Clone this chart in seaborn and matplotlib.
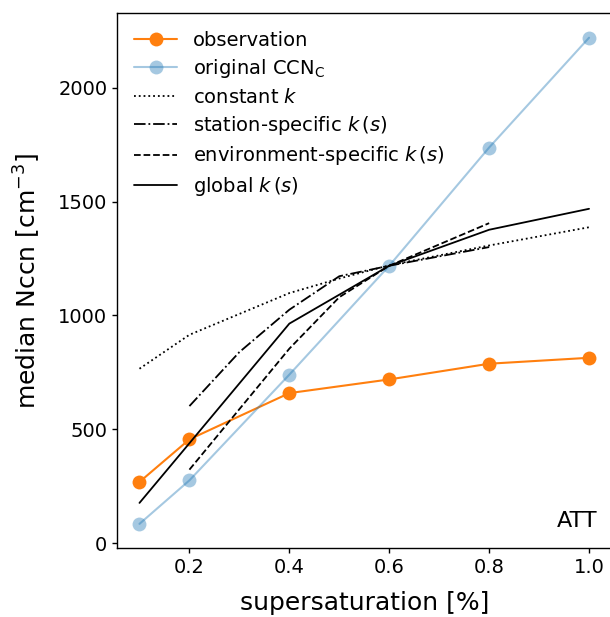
import matplotlib
matplotlib.use("Agg")
import matplotlib.pyplot as plt
import seaborn as sns

sns.set_style("ticks")
plt.rcParams['font.family'] = ['DejaVu Sans']
plt.rcParams['mathtext.fontset'] = 'dejavusans'
for k in ['text.color', 'axes.labelcolor', 'xtick.color', 'ytick.color', 'axes.edgecolor']:
    plt.rcParams[k] = 'black'

ss_all = [0.1, 0.2, 0.4, 0.6, 0.8, 1.0]
observation = [269, 456, 659, 719, 788, 814]
original_ccnc = [85, 276, 740, 1218, 1737, 2219]

ss_const = [0.1, 0.2, 0.4, 0.5, 0.6, 0.8, 1.0]
constant_k = [766, 915, 1098, 1162, 1220, 1307, 1387]

ss_station = [0.2, 0.3, 0.4, 0.5, 0.6, 0.8]
station_k = [602, 839, 1025, 1172, 1218, 1300]

ss_env = [0.2, 0.4, 0.5, 0.6, 0.8]
env_k = [323, 854, 1080, 1218, 1405]

ss_global = [0.1, 0.2, 0.4, 0.6, 0.8, 1.0]
global_k = [177, 439, 964, 1218, 1376, 1468]

fig = plt.figure(figsize=(6.10, 6.17), dpi=100)
ax = fig.add_axes([0.1918, 0.1118, 0.8107, 0.8666])

sns.lineplot(x=ss_all, y=observation, ax=ax, color='#ff7f0e', marker='o',
             markersize=10, markeredgewidth=0, lw=1.5, label='observation')
sns.lineplot(x=ss_all, y=original_ccnc, ax=ax, color='#1f77b4', alpha=0.4, marker='o',
             markersize=10, markeredgewidth=0, lw=1.5, label=r'original CCN$_\mathrm{C}$')
sns.lineplot(x=ss_const, y=constant_k, ax=ax, color='black', ls=':', lw=1.3,
             label=r'constant $k$')
sns.lineplot(x=ss_station, y=station_k, ax=ax, color='black', ls='-.', lw=1.3,
             label=r'station-specific $k\,(s)$')
sns.lineplot(x=ss_env, y=env_k, ax=ax, color='black', ls='--', lw=1.3,
             label=r'environment-specific $k\,(s)$')
sns.lineplot(x=ss_global, y=global_k, ax=ax, color='black', ls='-', lw=1.3,
             label=r'global $k\,(s)$')

ax.set_xlim(0.055, 1.045)
ax.set_ylim(-21, 2326)
ax.set_xticks([0.2, 0.4, 0.6, 0.8, 1.0])
ax.set_yticks([0, 500, 1000, 1500, 2000])
ax.tick_params(labelsize=14, length=3.5, width=1)
ax.set_xlabel('supersaturation [%]', fontsize=18, labelpad=10)
ax.set_ylabel(r'median Nccn [cm$^{-3}$]', fontsize=18, labelpad=10.5)
for s in ax.spines.values():
    s.set_linewidth(1)
ax.text(0.972, 0.039, 'ATT', transform=ax.transAxes, ha='right', va='baseline', fontsize=16)
leg = ax.legend(loc='upper left', frameon=False, fontsize=14, handlelength=2.2,
                labelspacing=0.38, borderaxespad=0.5)
fig.savefig('out.png', dpi=100)
